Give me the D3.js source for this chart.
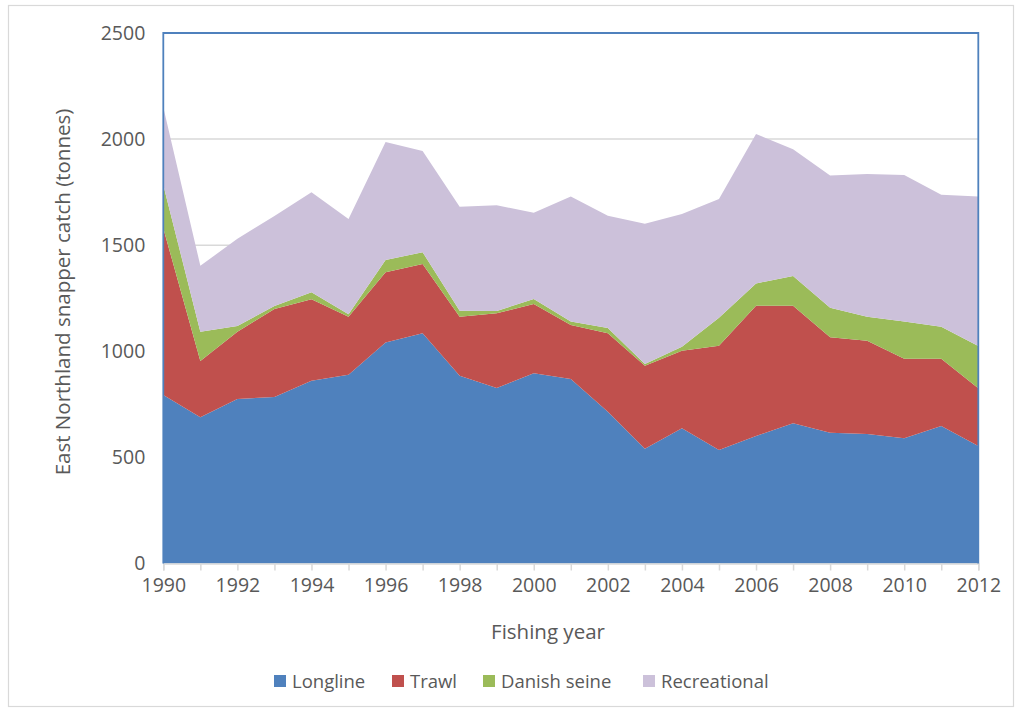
<!DOCTYPE html>
<html>
<head>
<meta charset="utf-8">
<script src="https://cdn.jsdelivr.net/npm/d3@7"></script>
<style>
  html, body { margin: 0; padding: 0; background: #fff; }
  svg { display: block; font-family: "Open Sans", "Noto Sans", sans-serif; }
</style>
</head>
<body>
<svg id="chart" width="1024" height="712"></svg>
<script>
// East Northland snapper catch by fishing method (tonnes)
const years = d3.range(1990, 2013);
const seriesNames = ["Longline", "Trawl", "Danish seine", "Recreational"];
const longline     = [794, 689, 775, 785, 861, 890, 1041, 1085, 885, 827, 896, 869, 715, 541, 637, 535, 601, 661, 616, 610, 590, 648, 554];
const trawl        = [786, 265, 317, 414, 384, 273, 331, 326, 278, 352, 327, 255, 370, 391, 366, 491, 614, 554, 450, 440, 375, 317, 272];
const danishSeine  = [204, 138, 27, 14, 33, 12, 58, 56, 28, 11, 23, 16, 25, 8, 19, 132, 105, 140, 139, 113, 175, 151, 199];
const recreational = [366, 311, 411, 425, 471, 448, 556, 477, 490, 498, 407, 590, 529, 661, 625, 560, 704, 597, 623, 673, 691, 622, 704];
const yTicks = [0, 500, 1000, 1500, 2000, 2500];
const xTickLabels = d3.range(1990, 2013, 2);

const colors = ["#4f81bd", "#c0504d", "#9bbb59", "#ccc1da"];

const rows = years.map((y, i) => ({
  year: y,
  "Longline": longline[i],
  "Trawl": trawl[i],
  "Danish seine": danishSeine[i],
  "Recreational": recreational[i]
}));

const svg = d3.select("#chart");
const plot = { left: 163.3, right: 978.3, top: 33, bottom: 563.5 };

// chart-area frame
svg.append("rect")
  .attr("x", 8.5).attr("y", 5.5).attr("width", 1005).attr("height", 701)
  .attr("fill", "#fff").attr("stroke", "#d9d9d9").attr("stroke-width", 1.2);

const x = d3.scaleLinear().domain([1990, 2012]).range([plot.left, plot.right]);
const y = d3.scaleLinear().domain([0, 2500]).range([plot.bottom, plot.top]);

// horizontal gridlines
svg.append("g")
  .selectAll("line")
  .data(yTicks.filter(t => t > 0))
  .join("line")
  .attr("x1", plot.left).attr("x2", plot.right)
  .attr("y1", d => y(d)).attr("y2", d => y(d))
  .attr("stroke", "#d9d9d9").attr("stroke-width", 1.5);

// stacked areas
const stack = d3.stack().keys(seriesNames);
const layers = stack(rows);
const area = d3.area()
  .x(d => x(d.data.year))
  .y0(d => y(d[0]))
  .y1(d => y(d[1]));

svg.append("g")
  .selectAll("path")
  .data(layers)
  .join("path")
  .attr("d", area)
  .attr("fill", (d, i) => colors[i]);

// x axis line and ticks
const xAxis = d3.axisBottom(x)
  .tickValues(years)
  .tickSize(7)
  .tickFormat(d => xTickLabels.includes(d) ? d : "");
const gx = svg.append("g")
  .attr("transform", `translate(0,${plot.bottom})`)
  .call(xAxis);
gx.select(".domain").attr("stroke", "#d9d9d9").attr("stroke-width", 1.5);
gx.selectAll(".tick line").attr("stroke", "#d9d9d9").attr("stroke-width", 1.5);
gx.selectAll(".tick text")
  .attr("y", 15)
  .attr("dy", "0.71em")
  .attr("fill", "#595959")
  .attr("font-size", 19.5)
  .attr("font-family", "'Open Sans', sans-serif");

// y axis labels
const yAxis = d3.axisLeft(y).tickValues(yTicks).tickSize(0).tickFormat(d3.format("d"));
const gy = svg.append("g")
  .attr("transform", `translate(${plot.left},0)`)
  .call(yAxis);
gy.select(".domain").remove();
gy.selectAll(".tick text")
  .attr("x", -18)
  .attr("fill", "#595959")
  .attr("font-size", 19.5)
  .attr("font-family", "'Open Sans', sans-serif");

// plot border (left, top, right)
svg.append("path")
  .attr("d", `M${plot.left},${plot.bottom}V${plot.top}H${plot.right}V${plot.bottom}`)
  .attr("fill", "none")
  .attr("stroke", "#4f81bd")
  .attr("stroke-width", 1.8);

// axis titles
svg.append("text")
  .attr("x", 548).attr("y", 639)
  .attr("text-anchor", "middle")
  .attr("fill", "#595959")
  .attr("font-size", 20.5)
  .text("Fishing year");

svg.append("text")
  .attr("transform", "translate(70,292) rotate(-90)")
  .attr("text-anchor", "middle")
  .attr("fill", "#595959")
  .attr("font-size", 20.5)
  .text("East Northland snapper catch (tonnes)");

// legend
const legendX = [274, 392, 483, 643];
const legend = svg.append("g");
seriesNames.forEach((name, i) => {
  const g = legend.append("g").attr("transform", `translate(${legendX[i]},675)`);
  g.append("rect").attr("width", 12).attr("height", 12).attr("fill", colors[i]);
  g.append("text")
    .attr("x", 18).attr("y", 13)
    .attr("fill", "#595959")
    .attr("font-size", 18.5)
    .text(name);
});
</script>
</body>
</html>
